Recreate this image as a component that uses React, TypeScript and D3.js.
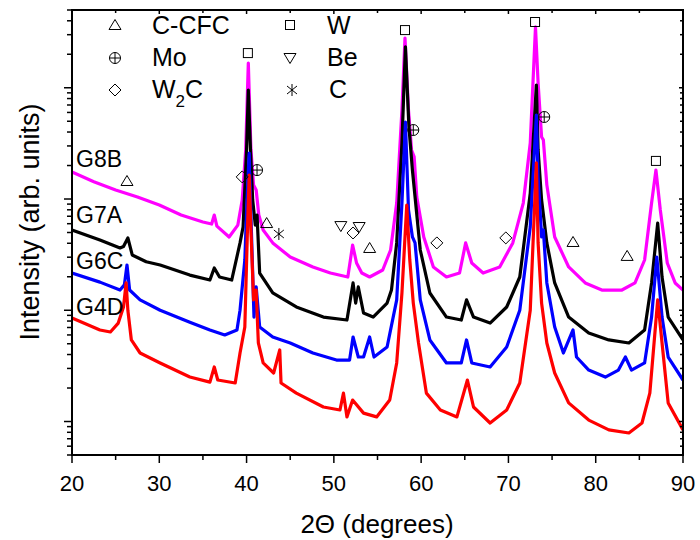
import React from "react";
import * as d3 from "d3";

// ---------- data (2θ in degrees, intensity in arb. units) ----------
const seriesNames = ["G8B", "G7A", "G6C", "G4D"];
const seriesColors = ["#ff00ff", "#000000", "#0000ff", "#ff0000"];

const g8b: [number, number][] = [
  [20, 1750], [22.5, 1430], [25, 1205], [27.5, 1042], [30, 883], [32.5, 718], [35, 621], [36, 596], [36.3, 718], [36.6, 571],
  [38, 456], [39, 583], [39.5, 980], [39.9, 2760], [40.2, 16700], [40.5, 2760], [40.8, 1340], [41.1, 1205], [41.4, 718],
  [41.9, 527], [43, 403], [45, 301], [47.6, 245], [49.6, 216], [51.6, 199], [52.15, 386], [52.6, 266], [53.2, 216],
  [54.1, 199], [55.6, 230], [56.5, 348], [57.2, 920], [57.8, 6310], [58.15, 28000], [58.55, 6310], [58.9, 2760],
  [59.2, 2390], [59.5, 1042], [60.3, 456], [61.4, 245], [62.9, 199], [64.4, 216], [65.1, 403], [65.8, 266], [67.1, 216],
  [69, 245], [70.5, 403], [71.7, 920], [72.5, 3190], [73.1, 35200], [73.4, 11040], [73.8, 3610], [74.0, 3400],
  [74.4, 1340], [75.3, 456], [76.9, 245], [78.8, 176], [80.7, 152], [83, 152], [84.5, 176], [85.6, 283], [86.4, 920],
  [86.9, 1820], [87.4, 796], [88.2, 266], [89.1, 176], [90, 152],
];

const g7a: [number, number][] = [
  [20, 527], [23.2, 429], [25.5, 363], [25.9, 374], [26.4, 447], [26.9, 314], [28.5, 273], [30.1, 255], [33.5, 207],
  [35.8, 187], [36.3, 240], [36.9, 199], [38.3, 187], [39.25, 403], [39.6, 560], [40.0, 2760], [40.2, 9550],
  [40.45, 2760], [40.7, 980], [41.0, 583], [41.2, 718], [41.5, 216], [43, 143], [45.7, 107], [48.8, 86.9], [51.5, 81.7],
  [52.2, 176], [52.5, 116], [52.8, 162], [53.4, 94.4], [54.5, 86.9], [56.1, 116], [56.6, 152], [57.2, 403], [57.8, 3190],
  [58.2, 23300], [58.6, 4440], [59.0, 1820], [59.9, 348], [61.0, 143], [62.9, 86.9], [64.6, 81.7], [65.2, 124],
  [66, 86.9], [67.9, 76.7], [69.8, 107], [71.3, 199], [72.5, 1130], [73.2, 10590], [73.4, 2760], [73.8, 980],
  [74.4, 403], [75.3, 176], [76.9, 86.9], [79.2, 62.5], [81.5, 54.1], [83.8, 50.8], [85.6, 66.5], [86.4, 176],
  [87.1, 608], [87.6, 199], [88.3, 86.9], [90, 54.1],
];

const g6c: [number, number][] = [
  [20, 216], [23.2, 179], [25.5, 152], [26.0, 169], [26.3, 255], [26.6, 152], [27.8, 124], [30.1, 100], [33.5, 78],
  [35.8, 66.5], [37.5, 60], [38.9, 66.5], [39.25, 100], [39.8, 283], [40.05, 980], [40.3, 2590], [40.55, 527],
  [40.85, 86.9], [41.1, 162], [41.5, 70.8], [43, 57.5], [45, 50.8], [47.6, 41.3], [50.3, 35.7], [51.8, 35.7],
  [52.2, 57.5], [52.8, 38], [53.4, 38], [54.1, 57.5], [54.6, 38], [56.1, 46.8], [57.2, 124], [57.8, 920], [58.2, 4920],
  [58.55, 796], [59.0, 456], [59.3, 403], [59.9, 124], [61, 54.1], [62.9, 33.6], [64.6, 33.6], [65.2, 54.1],
  [65.8, 33.6], [67.9, 30.9], [69.8, 46.8], [71.3, 100], [72.5, 560], [73.2, 5690], [73.4, 1580], [73.8, 456],
  [74.0, 527], [74.4, 176], [75.3, 70.8], [76.3, 41.3], [77.4, 66.5], [77.8, 38], [79.2, 29], [81.1, 25.1],
  [82.6, 29], [83.4, 38], [84.1, 29], [85.6, 33.6], [86.4, 86.9], [87.0, 301], [87.6, 86.9], [88.3, 38], [90, 23.6],
];

const g4d: [number, number][] = [
  [20, 85.1], [23.2, 66.5], [24.4, 63.8], [25.3, 76.7], [25.9, 107], [26.2, 176], [26.4, 100], [26.8, 54.1],
  [27.8, 41.3], [30.1, 33.6], [33.5, 25.1], [35.8, 22.6], [36.3, 30.9], [36.7, 23.6], [38.7, 22.2], [39.25, 41.3],
  [39.8, 70.8], [40.1, 527], [40.3, 1640], [40.5, 527], [40.8, 124], [41.1, 152], [41.35, 50.8], [41.9, 33.6],
  [43.1, 27.3], [43.8, 44], [43.95, 22.2], [45.7, 18], [48.8, 13.5], [50.7, 12.7], [51.1, 18], [51.5, 11],
  [52.15, 15.6], [53.4, 11.9], [54.9, 11], [56.4, 15.6], [57.2, 33.6], [57.8, 143], [58.35, 883], [58.7, 283],
  [59.1, 116], [59.7, 50.8], [60.6, 18], [62.2, 12.7], [64.1, 11], [65.3, 23.6], [66, 13.5], [67.9, 9.7], [69.8, 12.7],
  [71.3, 22.2], [72.5, 100], [73.2, 2110], [73.4, 403], [73.8, 116], [74.4, 50.8], [75.3, 27.3], [76.9, 14.7],
  [79.2, 10.3], [81.5, 8.4], [83.8, 7.89], [85.3, 9.7], [86.2, 18], [87.1, 124], [87.6, 50.8], [88.3, 14.7], [90, 8.4],
];

const seriesData = [g8b, g7a, g6c, g4d];

// x tick labels
const xTickValues = [20, 30, 40, 50, 60, 70, 80, 90];
const xMinorValues = [25, 35, 45, 55, 65, 75, 85];

// phase marker annotations: [2θ, intensity]
const markTriangle: [number, number][] = [[26.3, 1452], [42.3, 608], [54.1, 363], [77.4, 411], [83.6, 308]];
const markSquare: [number, number][] = [[40.15, 20500], [58.15, 33000], [73.05, 39000], [86.9, 2200]];
const markCirclePlus: [number, number][] = [[41.2, 1820], [59.1, 4170], [74.1, 5460]];
const markDiamond: [number, number][] = [[39.5, 1580], [52.2, 495], [61.8, 403], [69.7, 447]];
const markDownTriangle: [number, number][] = [[50.8, 571], [52.9, 560]];
const markStar: [number, number][] = [[43.7, 485]];

const legendLabels = ["C-CFC", "Mo", "W2C", "W", "Be", "C"];
const legendShapes = ["tri", "cplus", "diamond", "square", "dtri", "star"];

const FONT = "'Liberation Sans', Arial, Helvetica, sans-serif";

function Marker({ shape, cx, cy }: { shape: string; cx: number; cy: number }) {
  const st = { fill: "none", stroke: "#000", strokeWidth: 1 };
  if (shape === "tri") {
    return <polygon points={`${cx},${cy - 5.5} ${cx - 6},${cy + 4.5} ${cx + 6},${cy + 4.5}`} {...st} />;
  }
  if (shape === "dtri") {
    return <polygon points={`${cx},${cy + 5.5} ${cx - 6},${cy - 4.5} ${cx + 6},${cy - 4.5}`} {...st} />;
  }
  if (shape === "square") {
    return <rect x={cx - 4.5} y={cy - 4.5} width={9} height={9} {...st} />;
  }
  if (shape === "diamond") {
    return <polygon points={`${cx},${cy - 6} ${cx + 6},${cy} ${cx},${cy + 6} ${cx - 6},${cy}`} {...st} />;
  }
  if (shape === "cplus") {
    return (
      <g {...st}>
        <circle cx={cx} cy={cy} r={5.5} />
        <line x1={cx - 5.5} x2={cx + 5.5} y1={cy} y2={cy} />
        <line x1={cx} x2={cx} y1={cy - 5.5} y2={cy + 5.5} />
      </g>
    );
  }
  // star (asterisk)
  return (
    <g {...st}>
      <line x1={cx} x2={cx} y1={cy - 6} y2={cy + 6} />
      <line x1={cx - 5} x2={cx + 5} y1={cy - 4} y2={cy + 4} />
      <line x1={cx - 5} x2={cx + 5} y1={cy + 4} y2={cy - 4} />
    </g>
  );
}

export default function App() {
  const W = 700;
  const H = 540;
  const left = 72, right = 683, top = 10, bottom = 455;
  const x = d3.scaleLinear().domain([20, 90]).range([left, right]);
  const y = d3.scaleLog().domain([5, 50000]).range([bottom, top]);
  const line = d3
    .line<[number, number]>()
    .x((d) => x(d[0]))
    .y((d) => y(d[1]));

  const yAll = y.ticks().filter((v) => v >= 5 && v <= 50000);
  const isMajor = (v: number) => Math.abs(Math.log10(v) - Math.round(Math.log10(v))) < 1e-6;

  const labelBaselines = [167, 223, 269, 315];

  const marks: { shape: string; data: [number, number][] }[] = [
    { shape: "tri", data: markTriangle },
    { shape: "square", data: markSquare },
    { shape: "cplus", data: markCirclePlus },
    { shape: "diamond", data: markDiamond },
    { shape: "dtri", data: markDownTriangle },
    { shape: "star", data: markStar },
  ];

  const legendPos = [
    { sx: 115, sy: 25, tx: 152, ty: 34 },
    { sx: 115, sy: 58, tx: 152, ty: 66 },
    { sx: 115, sy: 90, tx: 152, ty: 98 },
    { sx: 290, sy: 25, tx: 327, ty: 34 },
    { sx: 290, sy: 58, tx: 327, ty: 66 },
    { sx: 292, sy: 90, tx: 329, ty: 98 },
  ];

  return (
    <svg
      width={W}
      height={H}
      style={{ position: "absolute", left: 0, top: 0, background: "#fff" }}
      fontFamily={FONT}
    >
      <rect x={0} y={0} width={W} height={H} fill="#fff" />
      <defs>
        <clipPath id="plotclip">
          <rect x={left} y={top} width={right - left} height={bottom - top} />
        </clipPath>
      </defs>

      {/* series */}
      <g clipPath="url(#plotclip)">
        {seriesData.map((s, i) => (
          <path
            key={seriesNames[i]}
            d={line(s) || ""}
            fill="none"
            stroke={seriesColors[i]}
            strokeWidth={3.2}
            strokeLinejoin="round"
          />
        ))}
      </g>

      {/* phase markers */}
      {marks.map((m) =>
        m.data.map((d, j) => <Marker key={m.shape + j} shape={m.shape} cx={x(d[0])} cy={y(d[1])} />)
      )}

      {/* frame */}
      <rect x={left} y={top} width={right - left} height={bottom - top} fill="none" stroke="#000" strokeWidth={2} />

      {/* bottom ticks (out) and top ticks (in) */}
      {xTickValues.map((v) => (
        <g key={"xt" + v}>
          <line x1={x(v)} x2={x(v)} y1={bottom} y2={bottom + 8} stroke="#000" strokeWidth={1.5} />
          <line x1={x(v)} x2={x(v)} y1={top} y2={top + 4} stroke="#000" strokeWidth={1.5} />
          <text x={x(v)} y={491} fontSize={22} textAnchor="middle" fill="#000">
            {v}
          </text>
        </g>
      ))}
      {xMinorValues.map((v) => (
        <g key={"xm" + v}>
          <line x1={x(v)} x2={x(v)} y1={bottom} y2={bottom + 5} stroke="#000" strokeWidth={1.5} />
          <line x1={x(v)} x2={x(v)} y1={top} y2={top + 3} stroke="#000" strokeWidth={1.5} />
        </g>
      ))}

      {/* left ticks (out), right ticks (in) */}
      {yAll.map((v) => {
        const maj = isMajor(v);
        const yy = y(v);
        return (
          <g key={"yt" + v}>
            <line x1={left - (maj ? 8 : 5)} x2={left} y1={yy} y2={yy} stroke="#000" strokeWidth={1.5} />
            <line x1={right - (maj ? 4 : 3)} x2={right} y1={yy} y2={yy} stroke="#000" strokeWidth={1.5} />
          </g>
        );
      })}

      {/* axis titles */}
      <text x={377} y={533} fontSize={26} textAnchor="middle" fill="#000">
        2Θ (degrees)
      </text>
      <text
        transform={`translate(39, 222) rotate(-90)`}
        fontSize={27}
        textAnchor="middle"
        fill="#000"
      >
        Intensity (arb. units)
      </text>

      {/* series labels */}
      {seriesNames.map((n, i) => (
        <text key={"lab" + n} x={76} y={labelBaselines[i]} fontSize={23} fill="#000">
          {n}
        </text>
      ))}

      {/* legend */}
      {legendLabels.map((lab, i) => {
        const p = legendPos[i];
        return (
          <g key={"lg" + i}>
            <Marker shape={legendShapes[i]} cx={p.sx} cy={p.sy} />
            {lab === "W2C" ? (
              <text x={p.tx} y={p.ty} fontSize={25} fill="#000">
                W
                <tspan fontSize={17} dy={9}>
                  2
                </tspan>
                <tspan dy={-9}>C</tspan>
              </text>
            ) : (
              <text x={p.tx} y={p.ty} fontSize={25} fill="#000">
                {lab}
              </text>
            )}
          </g>
        );
      })}
    </svg>
  );
}
